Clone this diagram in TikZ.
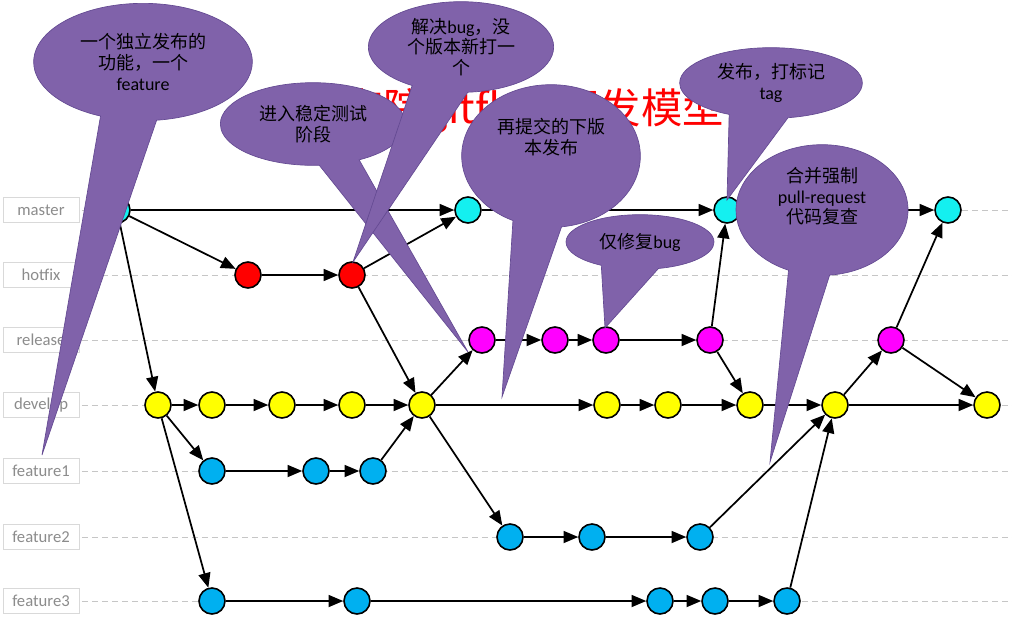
\documentclass[tikz,border=0pt]{standalone}
\usepackage{fontspec}
\setmainfont{Carlito}
\newfontfamily\cjk{Noto Sans CJK SC}
\usetikzlibrary{positioning, arrows.meta, shapes.callouts}

\definecolor{bubblefill}{RGB}{128,98,170}
\definecolor{bubbleedge}{RGB}{100,74,146}
\definecolor{mastercol}{RGB}{20,240,240}
\definecolor{hotcol}{RGB}{255,0,0}
\definecolor{relcol}{RGB}{255,0,255}
\definecolor{devcol}{RGB}{255,255,0}
\definecolor{featcol}{RGB}{0,176,240}

\begin{document}
\begin{tikzpicture}[x=0.75pt, y=-0.75pt,
    lbl/.style={draw=gray!30, text=gray!90, minimum width=57pt, minimum height=19pt, inner sep=0pt, font=\fontsize{12.5}{14}\selectfont},
    guide/.style={draw=gray!45, dash pattern=on 4.5pt off 3pt, line width=0.7pt},
    commit/.style={circle, draw, line width=1.2pt, minimum size=19.5pt, inner sep=0pt},
    mst/.style={commit, fill=mastercol},
    hot/.style={commit, fill=hotcol},
    rel/.style={commit, fill=relcol},
    dev/.style={commit, fill=devcol},
    feat/.style={commit, fill=featcol},
    arrow/.style={-{Triangle[length=11pt,width=9pt]}, line width=1.3pt},
    bubble/.style={ellipse callout, fill=bubblefill, draw=bubbleedge, line width=0.5pt, align=center, inner sep=0pt, font=\fontsize{13.5}{15.5}\selectfont}
  ]
  \useasboundingbox (0,0) rectangle (1012,629);
  \fill[white] (0,0) rectangle (1012,629);

  % branch labels and guide lines
  \foreach \b/\y in {master/210, hotfix/275, release/340, develop/405, feature1/471, feature2/537, feature3/601} {
    \node[lbl] (l\b) at (41,\y) {\b};
    \coordinate (e\b) at (1012,\y);
    \draw[guide] ([xshift=2pt]l\b.east) -- (e\b);
  }

  % title
  \node[anchor=base east, inner sep=0pt, text=red, font=\cjk\fontsize{31}{36}\selectfont] (title) at (724,123) {研究院gitflow开发模型};

  % master
  \node[mst] (m1) at (117,210) {};
  \node[mst] (m2) at (468,210) {};
  \node[mst] (m3) at (727,210) {};
  \node[mst] (m4) at (948,210) {};

  % hotfix
  \node[hot] (h1) at (248,275) {};
  \node[hot] (h2) at (352,275) {};

  % release
  \node[rel] (r1) at (482,340) {};
  \node[rel] (r2) at (555,340) {};
  \node[rel] (r3) at (606,340) {};
  \node[rel] (r4) at (710,340) {};
  \node[rel] (r5) at (891,340) {};

  % develop
  \node[dev] (d1) at (158,405) {};
  \node[dev] (d2) at (212,405) {};
  \node[dev] (d3) at (282,405) {};
  \node[dev] (d4) at (352,405) {};
  \node[dev] (d5) at (422,405) {};
  \node[dev] (d6) at (607,405) {};
  \node[dev] (d7) at (668,405) {};
  \node[dev] (d8) at (750,405) {};
  \node[dev] (d9) at (835,405) {};
  \node[dev] (d10) at (987,405) {};

  % features
  \node[feat] (f11) at (212,471) {};
  \node[feat] (f12) at (316,471) {};
  \node[feat] (f13) at (373,471) {};
  \node[feat] (f21) at (510,537) {};
  \node[feat] (f22) at (592,537) {};
  \node[feat] (f23) at (700,537) {};
  \node[feat] (f31) at (212,601) {};
  \node[feat] (f32) at (357,601) {};
  \node[feat] (f33) at (660,601) {};
  \node[feat] (f34) at (715,601) {};
  \node[feat] (f35) at (787,601) {};

  % master and hotfix
  \draw[arrow] (m1) -- (m2);
  \draw[arrow] (m2) -- (m3);
  \draw[arrow] (m3) -- (m4);
  \draw[arrow] (m1) -- (h1);
  \draw[arrow] (m1) -- (d1);
  \draw[arrow] (h1) -- (h2);
  \draw[arrow] (h2) -- (m2);
  \draw[arrow] (h2) -- (d5);

  % develop
  \draw[arrow] (d1) -- (d2);
  \draw[arrow] (d2) -- (d3);
  \draw[arrow] (d3) -- (d4);
  \draw[arrow] (d4) -- (d5);
  \draw[arrow] (d5) -- (d6);
  \draw[arrow] (d6) -- (d7);
  \draw[arrow] (d7) -- (d8);
  \draw[arrow] (d8) -- (d9);
  \draw[arrow] (d9) -- (d10);

  % release
  \draw[arrow] (d5) -- (r1);
  \draw[arrow] (r1) -- (r2);
  \draw[arrow] (r2) -- (r3);
  \draw[arrow] (r3) -- (r4);
  \draw[arrow] (r4) -- (m3);
  \draw[arrow] (r4) -- (d8);
  \draw[arrow] (d9) -- (r5);
  \draw[arrow] (r5) -- (m4);
  \draw[arrow] (r5) -- (d10);

  % feature branches
  \draw[arrow] (d1) -- (f11);
  \draw[arrow] (f11) -- (f12);
  \draw[arrow] (f12) -- (f13);
  \draw[arrow] (f13) -- (d5);
  \draw[arrow] (d5) -- (f21);
  \draw[arrow] (f21) -- (f22);
  \draw[arrow] (f22) -- (f23);
  \draw[arrow] (f23) -- (d9);
  \draw[arrow] (d1) -- (f31);
  \draw[arrow] (f31) -- (f32);
  \draw[arrow] (f32) -- (f33);
  \draw[arrow] (f33) -- (f34);
  \draw[arrow] (f34) -- (f35);
  \draw[arrow] (f35) -- (d9);

  % callouts
  \node[bubble, minimum width=164pt, minimum height=88pt, callout pointer arc=30, callout absolute pointer={(42,455)}] (c1) at (143,62)
    {{\cjk 一个独立发布的}\\{\cjk 功能，一个}\\feature};
  \node[bubble, minimum width=139pt, minimum height=62pt, callout pointer arc=26, callout absolute pointer={(468,352)}] (c2) at (313,124)
    {{\cjk 进入稳定测试}\\{\cjk 阶段}};
  \node[bubble, minimum width=139pt, minimum height=68pt, callout pointer arc=36, callout absolute pointer={(353,262)}] (c3) at (461,47)
    {{\cjk 解决}bug{\cjk ，没}\\{\cjk 个版本新打一}\\{\cjk 个}};
  \node[bubble, minimum width=134pt, minimum height=107pt, callout pointer arc=32, callout absolute pointer={(502,397)}] (c4) at (551,156)
    {{\cjk 再提交的下版}\\{\cjk 本发布}\\[14pt]};
  \node[bubble, minimum width=137pt, minimum height=53pt, callout pointer arc=38, callout absolute pointer={(727,200)}] (c5) at (771,83)
    {{\cjk 发布，打标记}\\tag};
  \node[bubble, minimum width=111pt, minimum height=41pt, callout pointer arc=46, callout absolute pointer={(605,328)}] (c7) at (640,242)
    {{\cjk 仅修复}bug};
  \node[bubble, minimum width=129pt, minimum height=98pt, callout pointer arc=28, callout absolute pointer={(770,462)}] (c6) at (822,210)
    {{\cjk 合并强制}\\pull-request\\{\cjk 代码复查}\\[6pt]};
\end{tikzpicture}
\end{document}
